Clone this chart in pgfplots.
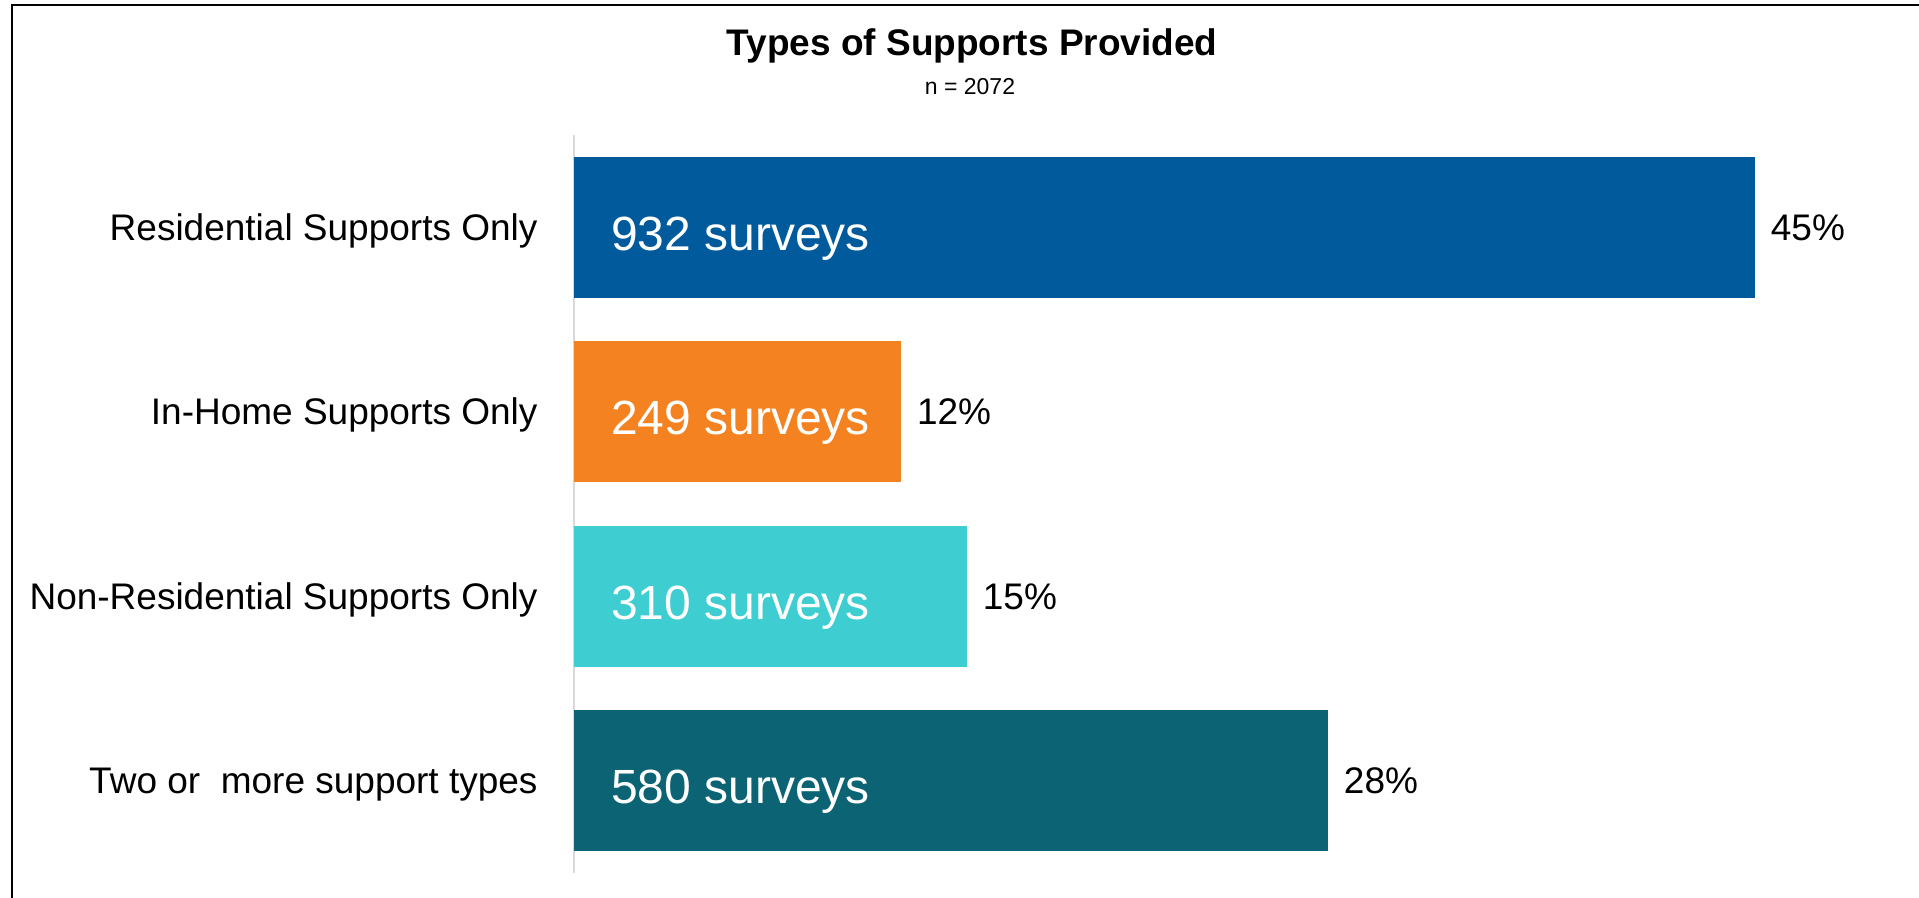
\documentclass[border=0pt]{standalone}
\usepackage{fontspec}
\setmainfont{Liberation Sans}
\usepackage{pgfplots}
\pgfplotsset{compat=1.18}
\definecolor{c1}{RGB}{0,90,156}
\definecolor{c2}{RGB}{245,130,32}
\definecolor{c3}{RGB}{62,205,208}
\definecolor{c4}{RGB}{11,99,115}
\definecolor{axgray}{RGB}{217,217,217}
\pgfplotsset{
  pct/.style={xbar, bar width=70.5pt, bar shift=0pt, draw=none,
    nodes near coords, point meta=explicit symbolic,
    every node near coord/.append style={font=\fontsize{18.5}{20}\selectfont, text=black, anchor=base west, xshift=4.5pt, yshift=-6.6pt}},
}
\begin{document}
\begin{tikzpicture}
\begin{axis}[
  scale only axis, width=656pt, height=369pt,
  xmin=0, xmax=50, ymin=-0.5, ymax=3.5, y dir=reverse,
  axis x line=none, axis y line=left,
  y axis line style={-, draw=axgray, line width=1pt},
  ytick={0,1,2,3},
  yticklabels={Residential Supports Only, In-Home Supports Only, Non-Residential Supports Only, Two or\ \ more support types},
  major tick length=0pt,
  yticklabel style={font=\fontsize{18.5}{20}\selectfont, anchor=base east, xshift=-14.7pt, yshift=-6.6pt},
  clip=false,
]
\addplot[pct, fill=c1] coordinates {(45,0) [45\%]};
\addplot[pct, fill=c2] coordinates {(12.46,1) [12\%]};
\addplot[pct, fill=c3] coordinates {(14.97,2) [15\%]};
\addplot[pct, fill=c4] coordinates {(28.73,3) [28\%]};
\addplot[draw=none, mark=none, nodes near coords, point meta=explicit symbolic,
  every node near coord/.append style={font=\fontsize{24}{28}\selectfont, text=white, anchor=base west, xshift=15pt, yshift=-11.5pt}]
  coordinates {(0,0) [932 surveys] (0,1) [249 surveys] (0,2) [310 surveys] (0,3) [580 surveys]};
\coordinate (TL) at (axis cs:0,-0.5);
\end{axis}
\pgfresetboundingbox
\begin{scope}[shift={(TL)}, x=1pt, y=1pt]
\path[use as bounding box] (-287,-381.5) rectangle (672.5,67.5);
\draw[line width=0.9pt] (-281,-381.5) -- (-281,65) -- (672.5,65);
\node[font=\bfseries\fontsize{18.5}{20}\selectfont, inner sep=0pt] at (199,44.5) {Types of Supports Provided};
\node[font=\fontsize{11.5}{13}\selectfont, inner sep=0pt] at (198,24) {n = 2072};
\end{scope}
\end{tikzpicture}
\end{document}
